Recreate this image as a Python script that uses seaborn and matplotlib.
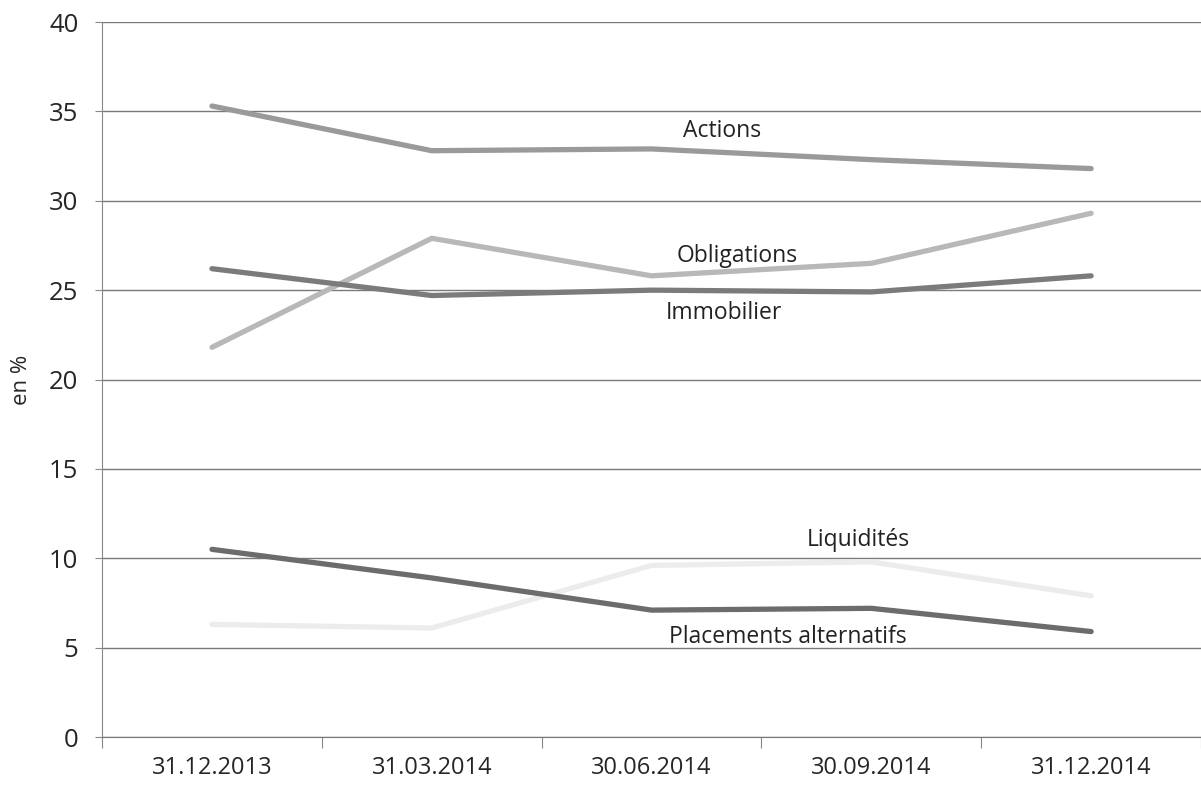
import pandas as pd
import matplotlib.pyplot as plt
import seaborn as sns

dates = ['31.12.2013', '31.03.2014', '30.06.2014', '30.09.2014', '31.12.2014']
actions = [35.3, 32.8, 32.9, 32.3, 31.8]
obligations = [21.8, 27.9, 25.8, 26.5, 29.3]
immobilier = [26.2, 24.7, 25.0, 24.9, 25.8]
placements = [10.5, 8.9, 7.1, 7.2, 5.9]
liquidites = [6.3, 6.1, 9.6, 9.8, 7.9]

series = {
    'Actions': actions,
    'Obligations': obligations,
    'Immobilier': immobilier,
    'Liquidités': liquidites,
    'Placements alternatifs': placements,
}
colors = {
    'Actions': '#9a9a9a',
    'Obligations': '#b8b8b8',
    'Immobilier': '#7b7b7b',
    'Liquidités': '#ececec',
    'Placements alternatifs': '#6c6c6c',
}

rows = []
for name, vals in series.items():
    for i, v in enumerate(vals):
        rows.append({'pos': i, 'date': dates[i], 'serie': name, 'val': v})
df = pd.DataFrame(rows)

sns.set_style('white')
plt.rcParams['font.family'] = ['Open Sans', 'DejaVu Sans']

fig = plt.figure(figsize=(12.01, 7.86), dpi=100)
ax = fig.add_axes([0.085, 0.0623, 0.915, 0.9097])

sns.lineplot(data=df, x='pos', y='val', hue='serie', palette=colors,
             linewidth=3.8, legend=False, ax=ax, sort=False)

ax.set_xlim(-0.5, len(dates) - 0.5)
ax.set_ylim(0, 40)
ax.set_yticks(range(0, 41, 5))
ax.yaxis.grid(True, color='#7a7a7a', linewidth=1)
ax.set_axisbelow(True)

# ticks between categories, labels centred on them
ax.set_xticks([i - 0.5 for i in range(len(dates) + 1)])
ax.set_xticklabels([])
ax.set_xticks(range(len(dates)), minor=True)
ax.set_xticklabels(dates, minor=True, fontsize=17)
ax.tick_params(axis='x', which='major', length=8, direction='out', color='#888888', bottom=True)
ax.tick_params(axis='x', which='minor', length=0, pad=14)
ax.tick_params(axis='y', length=5, direction='out', color='#888888', left=True, labelsize=18.5, pad=12)

for s in ['top', 'right']:
    ax.spines[s].set_visible(False)
ax.spines['left'].set_color('#888888')
ax.spines['bottom'].set_color('#777777')

ax.set_xlabel('')
ax.set_ylabel('en %', fontsize=16, labelpad=12)

labels = {
    'Actions': (2.32, 33.9),
    'Obligations': (2.39, 26.9),
    'Immobilier': (2.33, 23.7),
    'Liquidités': (2.94, 11.0),
    'Placements alternatifs': (2.62, 5.6),
}
for name, (lx, ly) in labels.items():
    ax.text(lx, ly, name, ha='center', va='center', fontsize=16.5, color='#222222')

fig.savefig('out.png', dpi=100)
